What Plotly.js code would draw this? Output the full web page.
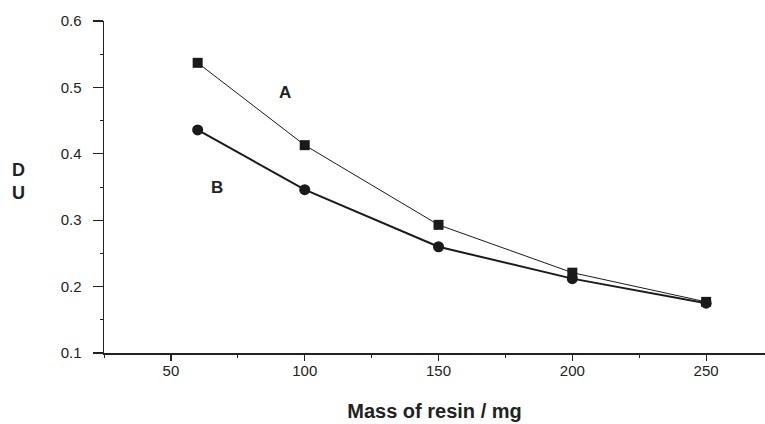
<!DOCTYPE html>
<html><head><meta charset="utf-8">
<script src="https://cdn.plot.ly/plotly-3.0.1.min.js"></script>
<style>html,body{margin:0;padding:0;background:#fff}</style>
</head><body><div id="chart" style="width:765px;height:424px"></div>
<script>
const mass = [60, 100, 150, 200, 250];
const seriesA = [0.537, 0.413, 0.293, 0.221, 0.177];
const seriesB = [0.436, 0.346, 0.260, 0.212, 0.175];
const labelA = {x: 92.7, y: 0.493, text: 'A'};
const labelB = {x: 67.3, y: 0.350, text: 'B'};

const traces = [
  {x: mass, y: seriesA, mode: 'lines+markers', type: 'scatter',
   line: {color: '#1a1a1a', width: 1}, marker: {symbol: 'square', size: 10, color: '#1a1a1a'}},
  {x: mass, y: seriesB, mode: 'lines+markers', type: 'scatter',
   line: {color: '#1a1a1a', width: 2}, marker: {symbol: 'circle', size: 11, color: '#1a1a1a'}}
];
const FAM = 'Liberation Sans, Arial, sans-serif';
const tickFont = {family: FAM, size: 15, color: '#222'};
const layout = {
  width: 765, height: 424,
  margin: {l: 104, r: 0, t: 21, b: 71, pad: 0},
  showlegend: false,
  paper_bgcolor: '#fff', plot_bgcolor: '#fff',
  xaxis: {range: [25, 272], showgrid: false, zeroline: false, showline: true,
    linecolor: '#222', linewidth: 1.5, ticks: 'outside', ticklen: 6, tickwidth: 1.2, tickcolor: '#222',
    tick0: 0, dtick: 50, tickfont: tickFont, ticklabelstandoff: -3,
    minor: {dtick: 25, tick0: 0, ticks: 'outside', ticklen: 3, tickcolor: '#222', tickwidth: 1},
    title: {text: 'Mass of resin / mg', standoff: 26,
      font: {family: FAM, size: 20, color: '#222', weight: 'bold'}}},
  yaxis: {range: [0.1, 0.6], showgrid: false, zeroline: false, showline: true,
    linecolor: '#222', linewidth: 1.5, ticks: 'outside', ticklen: 10, tickwidth: 1.2, tickcolor: '#222',
    tick0: 0, dtick: 0.1, tickformat: '.1f', tickfont: tickFont, ticklabelstandoff: 8,
    minor: {dtick: 0.05, tick0: 0, ticks: 'outside', ticklen: 3, tickcolor: '#222', tickwidth: 1}},
  annotations: [
    {x: labelA.x, y: labelA.y, xref: 'x', yref: 'y', text: labelA.text, showarrow: false,
     xanchor: 'center', yanchor: 'middle',
     font: {family: FAM, size: 17, color: '#222', weight: 'bold'}},
    {x: labelB.x, y: labelB.y, xref: 'x', yref: 'y', text: labelB.text, showarrow: false,
     xanchor: 'center', yanchor: 'middle',
     font: {family: FAM, size: 17, color: '#222', weight: 'bold'}},
    {x: 0, y: 0, xref: 'paper', yref: 'paper', text: 'D<br>U', showarrow: false,
     xanchor: 'center', yanchor: 'middle',
     font: {family: FAM, size: 18, color: '#222', weight: 'bold'}}
  ]
};
// pixel position of the y title converted into paper coordinates
layout.annotations[2].x = (18 - 104) / 661;
layout.annotations[2].y = (353 - 181) / 332;
Plotly.newPlot('chart', traces, layout, {displayModeBar: false, staticPlot: true});
</script></body></html>
